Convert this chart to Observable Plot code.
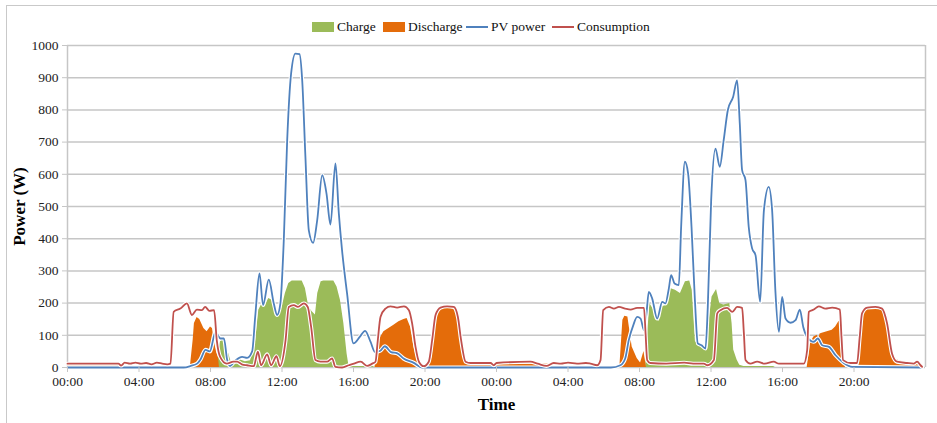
<!DOCTYPE html>
<html>
<head>
<meta charset="utf-8">
<script src="https://cdn.jsdelivr.net/npm/d3@7"></script>
<script src="https://cdn.jsdelivr.net/npm/@observablehq/plot@0.6"></script>
<style>
  html, body { margin: 0; padding: 0; background: #fff; }
  #wrap { position: relative; width: 937px; height: 423px; overflow: hidden; font-family: "Liberation Serif", "DejaVu Serif", serif; }
  #frame { position: absolute; left: 6px; top: 5px; width: 940px; height: 430px; border-left: 1.5px solid #c9c9c9; border-top: 1.5px solid #c9c9c9; pointer-events: none; }
  #legend { position: relative; height: 38px; font-size: 13.5px; color: #111; font-family: "Liberation Serif", "DejaVu Serif", serif; }
  .item { position: absolute; top: 19px; display: flex; align-items: center; height: 16px; }
  .sw { display: inline-block; width: 22px; height: 10px; margin-right: 3px; }
  .ln { display: inline-block; width: 22px; height: 2px; margin-right: 3px; }
  #chart svg text { font-family: "Liberation Serif", "DejaVu Serif", serif !important; }
  #chart svg g[aria-label="x-axis label"] text,
  #chart svg g[aria-label="y-axis label"] text { font-weight: bold; font-size: 17px; fill: #000; }
</style>
</head>
<body>
<div id="wrap">
  <div id="frame"></div>
  <div id="legend"></div>
  <div id="chart"></div>
</div>
<script>
// ---------- data (hours since 00:00 of day 1, watts) ----------
const seriesNames = ["Charge", "Discharge", "PV power", "Consumption"];
const seriesColors = ["#9BBB59", "#E46C0A", "#4F81BD", "#C0504D"];

const xTickHours = [0, 4, 8, 12, 16, 20, 24, 28, 32, 36, 40, 44];
const yTickValues = [0, 100, 200, 300, 400, 500, 600, 700, 800, 900, 1000];

const pvTime = [0, 6.5, 6.9, 7.25, 7.44, 7.72, 7.96, 8.28, 8.56, 8.75, 8.93, 9.08, 9.4, 9.77, 10.05, 10.33, 10.5, 10.74, 10.94, 11.26, 11.54, 11.73, 11.91, 12.1, 12.29, 12.51, 12.75, 12.98, 13.13, 13.31, 13.5, 13.74, 13.97, 14.25, 14.49, 14.71, 14.99, 15.18, 15.36, 15.64, 16.0, 16.35, 16.65, 16.95, 17.2, 17.5, 17.75, 18.1, 18.45, 18.8, 19.35, 19.85,
  30.4, 30.93, 31.2, 31.4, 31.65, 31.87, 32.06, 32.25, 32.39, 32.52, 32.71, 32.99, 33.27, 33.45, 33.64, 33.77, 33.96, 34.2, 34.33, 34.54, 34.72, 34.91, 35.1, 35.26, 35.47, 35.69, 35.82, 36.01, 36.25, 36.49, 36.71, 36.94, 37.24, 37.46, 37.61, 37.74, 37.93, 38.11, 38.3, 38.49, 38.75, 38.96, 39.23, 39.42, 39.6, 39.8, 39.98, 40.17, 40.45, 40.73, 40.97, 41.16, 41.38, 41.75, 41.98, 42.22, 42.6, 42.97, 43.43, 43.9, 47.8];
const pvPower = [0, 0, 5, 12, 25, 55, 50, 110, 90, 90, 25, 5, 22, 33, 30, 50, 157, 292, 194, 273, 199, 163, 199, 395, 706, 913, 975, 973, 892, 654, 426, 387, 458, 597, 540, 444, 634, 478, 364, 230, 75, 95, 114, 80, 48, 52, 66, 48, 44, 28, 15, 0,
  0, 7, 28, 85, 131, 157, 152, 116, 168, 235, 214, 152, 204, 199, 245, 287, 261, 256, 437, 639, 602, 437, 209, 75, 69, 59, 188, 520, 680, 623, 706, 799, 841, 892, 758, 613, 582, 437, 370, 349, 204, 488, 561, 488, 240, 111, 219, 152, 139, 147, 180, 126, 95, 80, 90, 69, 64, 38, 14, 2, 0];

const consTime = [0, 2.85, 3.0, 3.2, 3.5, 3.8, 4.1, 4.4, 4.7, 5.0, 5.3, 5.58, 5.76, 5.94, 6.31, 6.68, 6.96, 7.24, 7.52, 7.7, 7.94, 8.2, 8.35, 8.54, 8.91, 9.28, 9.49, 9.75, 10.05, 10.42, 10.65, 10.83, 11.17, 11.39, 11.69, 11.88, 12.2, 12.38, 12.66, 12.89, 13.22, 13.44, 13.63, 13.87, 14.15, 14.52, 14.8, 14.99, 15.36, 15.74, 16.02, 16.4, 16.77, 17.05, 17.23, 17.36, 17.51, 17.79, 18.07, 18.44, 18.82, 19.1, 19.28, 19.47, 19.66, 19.93, 20.21, 20.4, 20.59, 20.87, 21.24, 21.61, 21.84, 22.02, 22.27, 22.55, 23.67, 23.85, 24.0, 25.9, 26.3, 26.8, 27.2, 27.6, 28.0, 28.5, 29.0, 29.26, 29.63, 29.82, 29.97, 30.29, 30.57, 30.85, 31.2, 31.5, 31.87, 32.25, 32.34, 32.43, 32.6, 33.5, 34.5, 35.0, 35.6, 35.8, 36.16, 36.35, 36.53, 36.9, 37.19, 37.46, 37.74, 37.84, 37.93, 38.2, 38.58, 39.0, 39.51, 39.8, 41.19, 41.38, 41.47, 41.75, 42.03, 42.4, 42.78, 43.21, 43.3, 43.39, 43.8, 44.17, 44.32, 44.45, 44.74, 45.2, 45.57, 45.85, 46.13, 46.41, 46.97, 47.34, 47.53, 47.72, 47.81];
const consPower = [12, 12, 6, 15, 12, 15, 12, 14, 10, 15, 12, 10, 12, 173, 183, 199, 163, 180, 178, 188, 176, 178, 85, 33, 12, 18, 18, 10, 7, 4, 49, 7, 41, 7, 35, 4, 85, 188, 194, 188, 199, 188, 126, 23, 18, 18, 28, 2, 0, 7, 12, 18, 5, 12, 18, 85, 157, 183, 190, 186, 190, 178, 137, 64, 18, 4, 18, 85, 163, 186, 190, 188, 157, 85, 18, 14, 14, 7, 14, 18, 12, 5, 14, 12, 15, 12, 14, 12, 7, 23, 178, 188, 183, 188, 183, 180, 185, 185, 106, 23, 14, 12, 15, 12, 12, 7, 23, 168, 178, 185, 173, 188, 185, 106, 23, 12, 18, 12, 18, 12, 12, 54, 173, 180, 190, 183, 186, 180, 95, 23, 14, 14, 95, 168, 186, 188, 183, 137, 43, 18, 14, 12, 18, 7, 2];

const dischargeTime = [0, 2.9, 3.0, 6.87, 7.03, 7.1, 7.25, 7.4, 7.63, 7.81, 8.0, 8.11, 8.22, 8.35, 8.45, 8.5, 17.2, 17.42, 17.7, 17.98, 18.26, 18.54, 18.82, 19.0, 19.19, 19.38, 19.56, 19.8, 20.21, 20.4, 20.59, 20.78, 20.97, 21.61, 21.84, 22.02, 22.21, 22.36, 26.9, 27.0, 30.9, 31.07, 31.18, 31.35, 31.59, 31.87, 32.06, 32.25, 32.39, 41.38, 41.57, 41.75, 41.95, 42.03, 42.1, 42.22, 42.5, 42.78, 42.97, 43.15, 43.29, 43.39, 43.52, 44.27, 44.42, 44.55, 44.74, 45.48, 45.7, 45.94, 46.13, 46.41, 46.97, 47.34, 47.53, 47.81];
const dischargePower = [10, 10, 0, 0, 85, 137, 155, 149, 121, 111, 126, 121, 80, 45, 30, 0, 0, 85, 111, 121, 131, 142, 149, 152, 126, 64, 23, 0, 0, 33, 137, 176, 190, 190, 157, 85, 23, 12, 10, 0, 0, 147, 159, 157, 64, 28, 14, 50, 0, 0, 75, 95, 100, 88, 104, 106, 111, 116, 126, 142, 145, 54, 0, 0, 95, 168, 183, 186, 168, 95, 43, 23, 14, 12, 18, 0];

const chargeTime = [0, 8.4, 8.5, 8.56, 8.75, 9.02, 9.21, 9.4, 9.68, 9.95, 10.24, 10.52, 10.7, 10.89, 11.02, 11.26, 11.45, 11.64, 11.82, 12.01, 12.19, 12.38, 12.57, 13.13, 13.31, 13.5, 13.69, 13.87, 14.0, 14.19, 14.34, 14.9, 15.08, 15.27, 15.46, 15.64, 15.74, 15.9, 17.1, 17.2, 32.34, 32.43, 32.58, 32.8, 33.08, 33.27, 33.51, 33.73, 34.01, 34.29, 34.57, 34.81, 34.95, 35.13, 35.32, 35.5, 35.69, 35.88, 36.06, 36.31, 36.49, 36.71, 37.05, 37.18, 37.27, 37.46, 37.61, 37.84, 39.5, 39.6, 47.8];
const chargePower = [0, 0, 60, 80, 88, 43, 7, 15, 23, 18, 21, 80, 178, 199, 188, 214, 209, 168, 157, 188, 230, 261, 269, 269, 245, 188, 173, 163, 230, 266, 269, 269, 250, 209, 137, 43, 7, 3, 3, 0, 0, 85, 199, 178, 142, 188, 194, 245, 240, 230, 266, 269, 240, 80, 72, 64, 54, 137, 219, 242, 199, 194, 199, 137, 54, 23, 7, 3, 3, 0, 0];

// ---------- tables ----------
const toRows = (ts, vs) => ts.map((t, i) => ({t, v: vs[i]}));
const pvRows = toRows(pvTime, pvPower);
const consRows = toRows(consTime, consPower);
const disRows = toRows(dischargeTime, dischargePower);
const chgRows = toRows(chargeTime, chargePower);

// ---------- legend ----------
const legend = document.getElementById("legend");
const legendLeft = [312, 383, 466, 552];
seriesNames.forEach((name, i) => {
  const it = document.createElement("div");
  it.className = "item";
  it.style.left = legendLeft[i] + "px";
  const s = document.createElement("span");
  s.className = i < 2 ? "sw" : "ln";
  s.style.background = seriesColors[i];
  it.appendChild(s);
  const tx = document.createElement("span");
  tx.textContent = name;
  it.appendChild(tx);
  legend.appendChild(it);
});

// ---------- chart ----------
const fmt = h => String(h % 24).padStart(2, "0") + ":00";
const grid = "#c6c6c6";
const chart = Plot.plot({
  width: 937,
  height: 385,
  marginLeft: 67,
  marginRight: 12,
  marginTop: 7,
  marginBottom: 56,
  style: {fontFamily: '"Liberation Serif", "DejaVu Serif", serif', fontSize: "13.5px", color: "#222", background: "transparent", overflow: "visible"},
  x: {domain: [0, 48]},
  y: {domain: [0, 1000]},
  marks: [
    Plot.gridY(yTickValues, {stroke: grid, strokeOpacity: 1, strokeWidth: 1.5}),
    Plot.ruleX([0, 48], {stroke: grid, strokeWidth: 1.5}),
    Plot.areaY(chgRows, {x: "t", y: "v", fill: seriesColors[0]}),
    Plot.areaY(disRows, {x: "t", y: "v", fill: seriesColors[1]}),
    Plot.line(pvRows, {x: "t", y: "v", stroke: "white", strokeWidth: 4, curve: "monotone-x"}),
    Plot.line(pvRows, {x: "t", y: "v", stroke: seriesColors[2], strokeWidth: 1.8, curve: "monotone-x"}),
    Plot.line(consRows, {x: "t", y: "v", stroke: "white", strokeWidth: 4, curve: "monotone-x"}),
    Plot.line(consRows, {x: "t", y: "v", stroke: seriesColors[3], strokeWidth: 1.8, curve: "monotone-x"}),
    Plot.axisX({ticks: xTickHours, tickFormat: fmt, tickSize: 5, tickPadding: 4, stroke: grid, fill: "#222",
      label: "Time", labelAnchor: "center", labelArrow: "none", labelOffset: 42}),
    Plot.axisY({ticks: yTickValues, tickFormat: d => String(d), tickSize: 5, tickPadding: 4, stroke: grid, fill: "#222",
      label: "Power (W)", labelAnchor: "center", labelArrow: "none", labelOffset: 55})
  ]
});
document.getElementById("chart").appendChild(chart);
</script>
</body>
</html>
